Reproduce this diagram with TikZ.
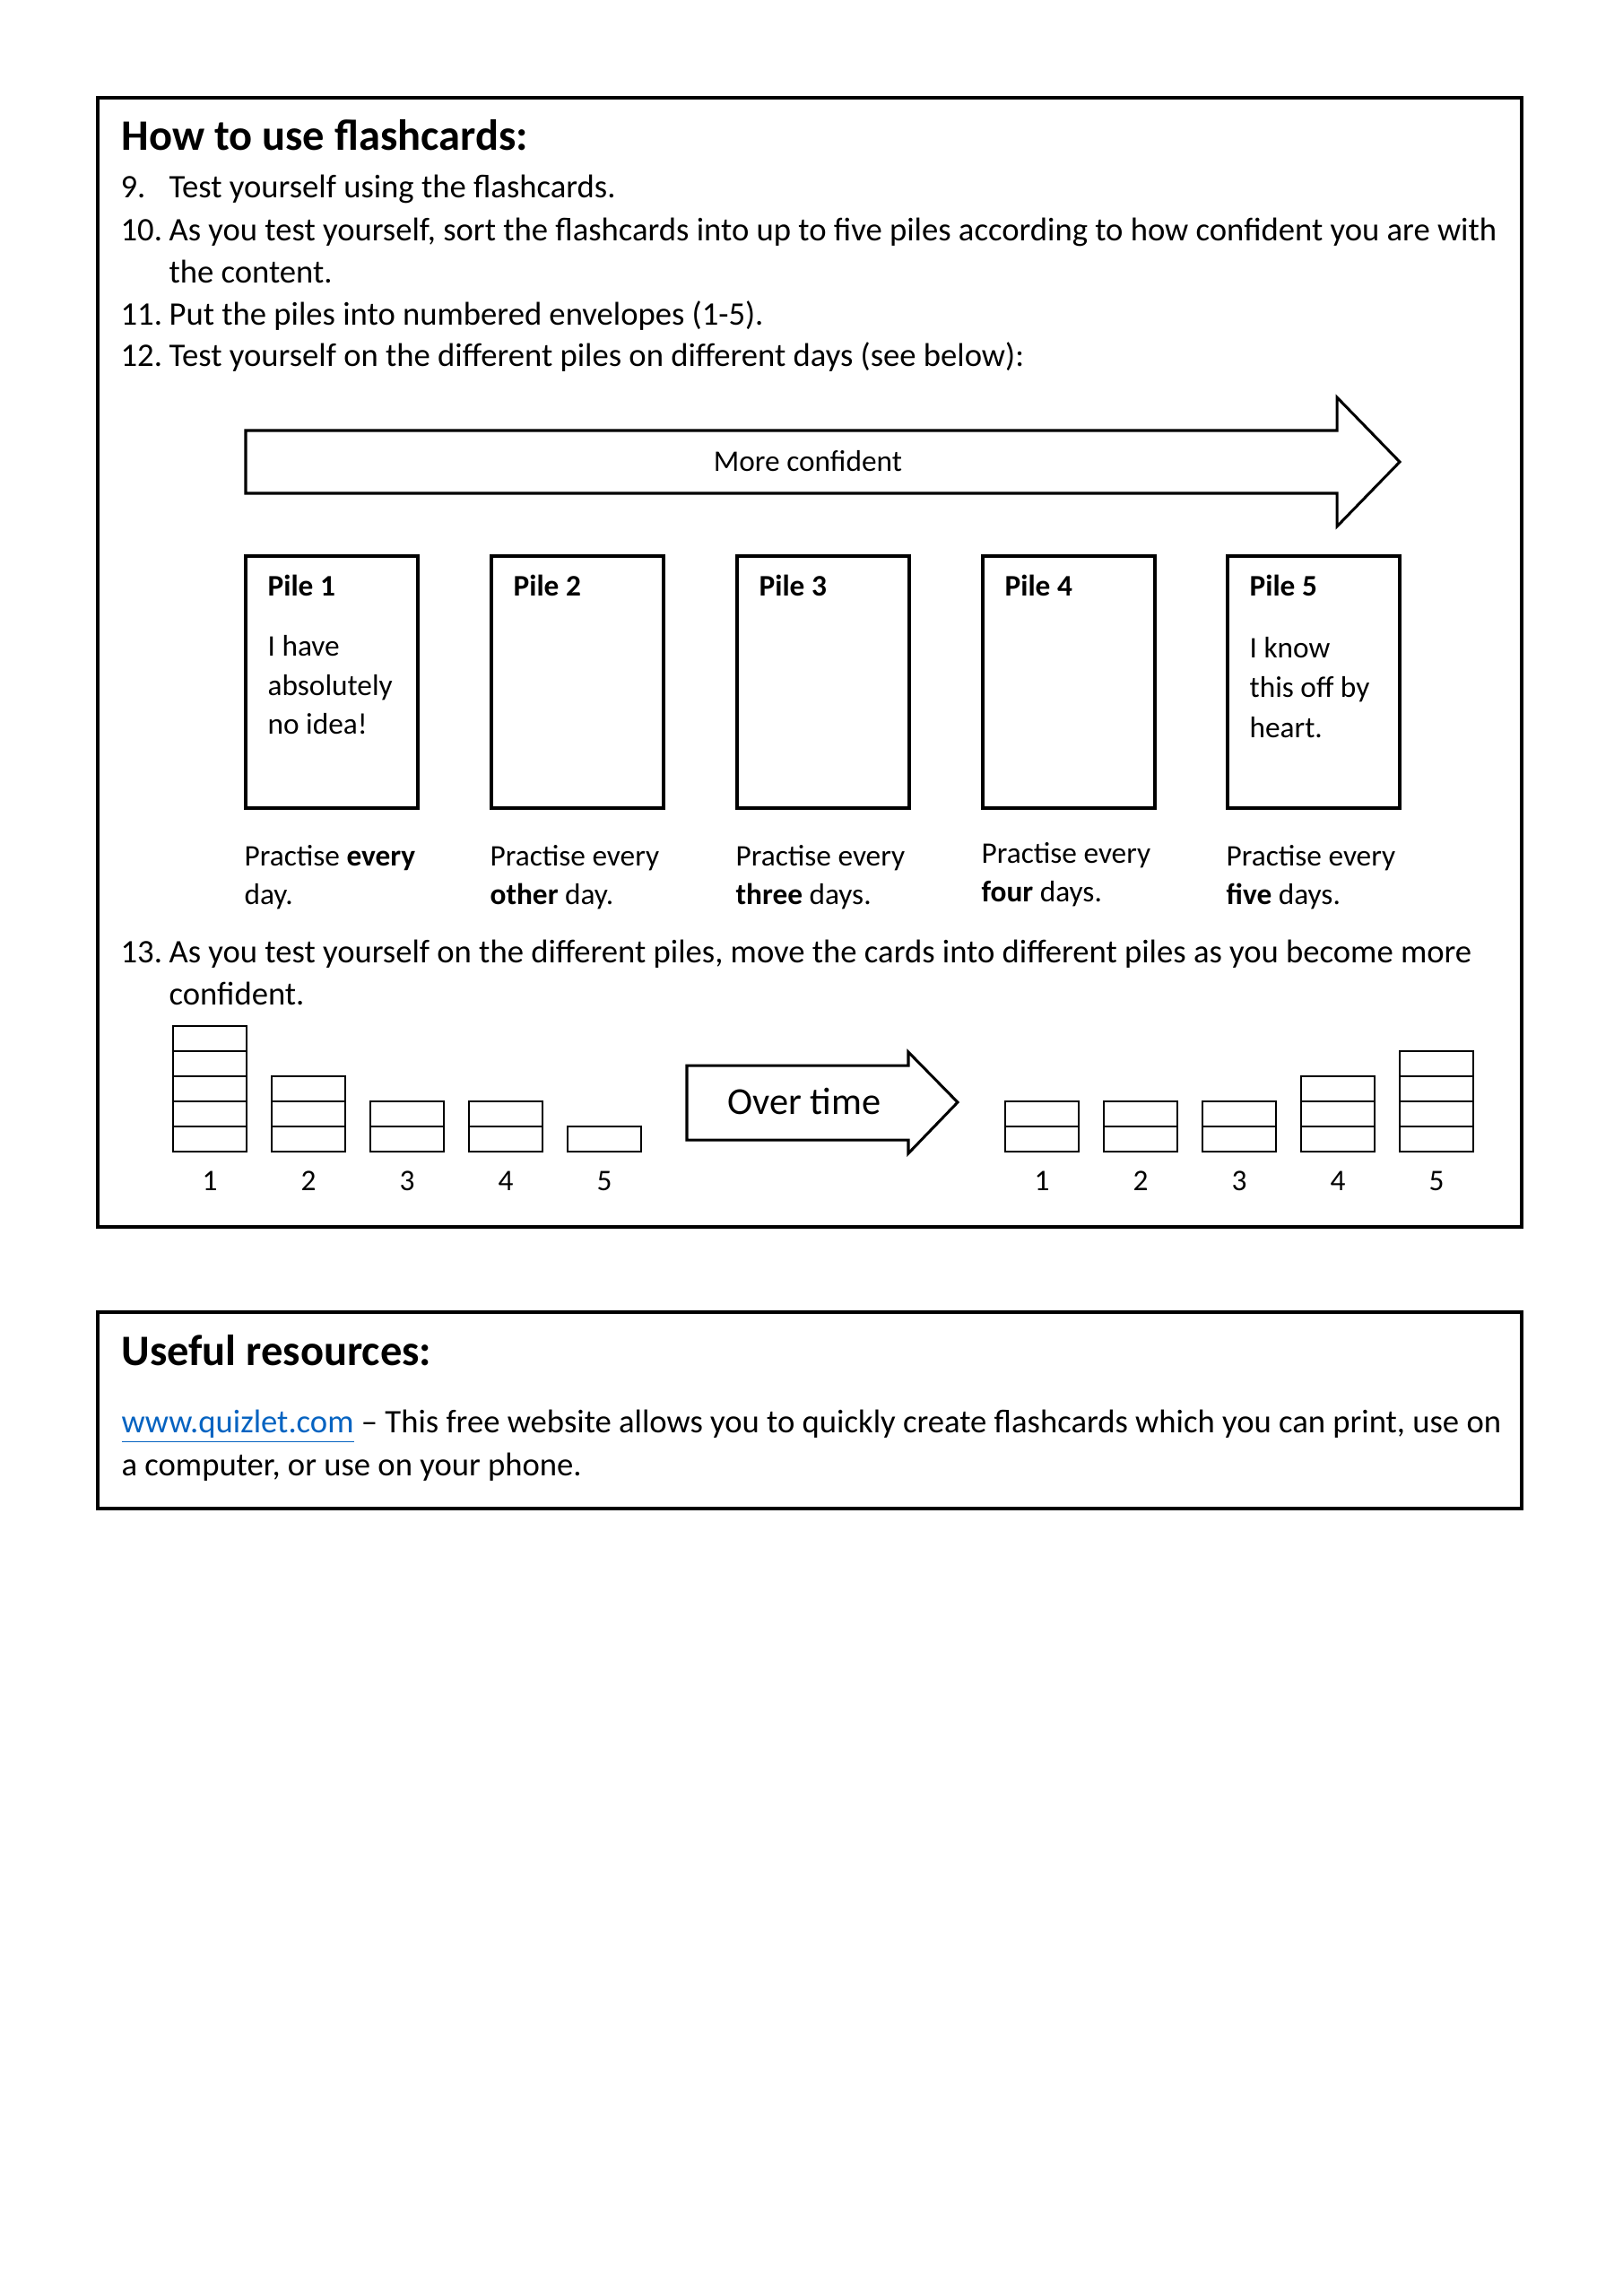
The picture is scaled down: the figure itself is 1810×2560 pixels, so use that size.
\documentclass[tikz,border=0pt]{standalone}
\usepackage{fontspec}
\setmainfont{Carlito}
\definecolor{linkblue}{HTML}{0563C1}
\begin{document}
\begin{tikzpicture}[x=0.116022mm,y=-0.116022mm,
  txt/.style={anchor=base west,inner sep=0pt,font=\fontsize{12.1}{14}\selectfont},
  smalltxt/.style={anchor=base west,inner sep=0pt,font=\fontsize{11}{13}\selectfont},
  ctxt/.style={anchor=base,inner sep=0pt,font=\fontsize{11}{13}\selectfont},
  headtxt/.style={anchor=base west,inner sep=0pt,font=\fontsize{16}{18}\selectfont\bfseries},
  frame/.style={draw,line width=1.3pt},
  pilebox/.style={draw,line width=1.2pt},
  card/.style={draw,line width=0.9pt},
  bigarrow/.style={draw,line width=1pt,line join=miter}]
\useasboundingbox (0,0) rectangle (1810,2560);
\fill[white] (0,0) rectangle (1810,2560);

% ---------- main box ----------
\draw[frame] (109,109) rectangle (1697,1368);
\node[headtxt] (h1) at (135,167) {How to use flashcards:};
\node[txt] (n9)  at (134,220) {9.};
\node[txt] (t9)  at (188,220) {Test yourself using the flashcards.};
\node[txt] (n10) at (134,268) {10.};
\node[txt] (t10) at (188,268) {As you test yourself, sort the flashcards into up to five piles according to how confident you are with};
\node[txt] (t10b) at (188,315) {the content.};
\node[txt] (n11) at (134,362) {11.};
\node[txt] (t11) at (188,362) {Put the piles into numbered envelopes (1-5).};
\node[txt] (n12) at (134,408) {12.};
\node[txt] (t12) at (188,408) {Test yourself on the different piles on different days (see below):};

% big arrow
\draw[bigarrow] (274,480) -- (1491,480) -- (1491,443) -- (1561,515) -- (1491,587) -- (1491,550) -- (274,550) -- cycle;
\node[anchor=base,inner sep=0pt,font=\fontsize{11}{13}\selectfont] (mc) at (901,525) {More confident};

% piles
\foreach \i/\xl in {1/274,2/548,3/822,4/1096,5/1369}{
  \draw[pilebox] (\xl,620) rectangle ++(192,281);
  \node[smalltxt,font=\fontsize{11}{13}\selectfont\bfseries] (pile\i) at (\xl+24,664) {Pile \i};
}
\node[smalltxt] (p1a) at (298,731) {I have};
\node[smalltxt] (p1b) at (298,775) {absolutely};
\node[smalltxt] (p1c) at (298,818) {no idea!};
\node[smalltxt] (p5a) at (1393,733) {I know};
\node[smalltxt] (p5b) at (1393,777) {this off by};
\node[smalltxt] (p5c) at (1393,822) {heart.};

\node[smalltxt] (d1a) at (272,965) {Practise \textbf{every}};
\node[smalltxt] (d1b) at (272,1008) {day.};
\node[smalltxt] (d2a) at (546,965) {Practise every};
\node[smalltxt] (d2b) at (546,1008) {\textbf{other} day.};
\node[smalltxt] (d3a) at (820,965) {Practise every};
\node[smalltxt] (d3b) at (820,1008) {\textbf{three} days.};
\node[smalltxt] (d4a) at (1094,962) {Practise every};
\node[smalltxt] (d4b) at (1094,1005) {\textbf{four} days.};
\node[smalltxt] (d5a) at (1367,965) {Practise every};
\node[smalltxt] (d5b) at (1367,1008) {\textbf{five} days.};

\node[txt] (n13) at (134,1073) {13.};
\node[txt] (t13) at (188,1073) {As you test yourself on the different piles, move the cards into different piles as you become more};
\node[txt] (t13b) at (188,1120) {confident.};

% stacks before
\foreach \xl/\n/\lab in {193/5/1,303/3/2,413/2/3,523/2/4,633/1/5}{
  \foreach \k in {1,...,\n}{
    \draw[card] (\xl,1284-28*\k) rectangle ++(82,28);
  }
  \node[ctxt] (L\lab) at (\xl+41,1327) {\lab};
}
% over time arrow
\draw[bigarrow] (766,1188) -- (1013,1188) -- (1013,1173) -- (1068,1229) -- (1013,1286) -- (1013,1271) -- (766,1271) -- cycle;
\node[anchor=base,inner sep=0pt,font=\fontsize{14}{16}\selectfont] (ot) at (897,1242) {Over time};
% stacks after
\foreach \xl/\n/\lab in {1121/2/1,1231/2/2,1341/2/3,1451/3/4,1561/4/5}{
  \foreach \k in {1,...,\n}{
    \draw[card] (\xl,1284-28*\k) rectangle ++(82,28);
  }
  \node[ctxt] (R\lab) at (\xl+41,1327) {\lab};
}

% ---------- resources box ----------
\draw[frame] (109,1463) rectangle (1697,1682);
\node[headtxt] (h2) at (135,1522) {Useful resources:};
\node[txt] (r1) at (135,1597) {{\color{linkblue}\underline{www.quizlet.com}} -- This free website allows you to quickly create flashcards which you can print, use on};
\node[txt] (r2) at (135,1645) {a computer, or use on your phone.};
\end{tikzpicture}
\end{document}
